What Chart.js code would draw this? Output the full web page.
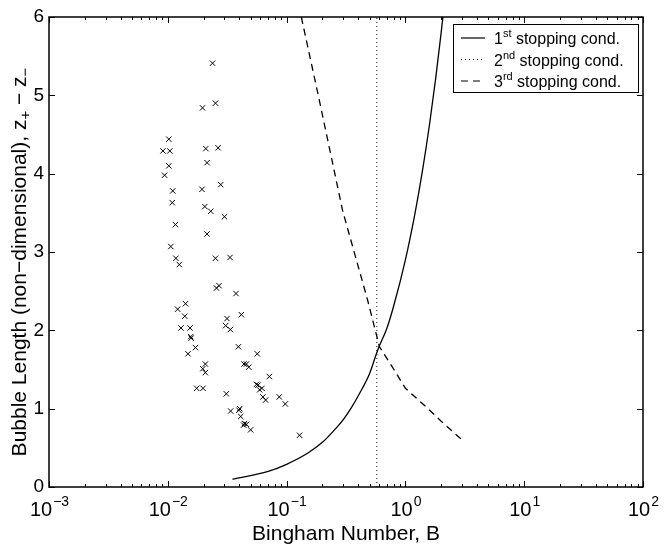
<!DOCTYPE html>
<html>
<head>
<meta charset="utf-8">
<script src="https://cdn.jsdelivr.net/npm/chart.js@4.4.0/dist/chart.umd.min.js"></script>
<style>
  html, body { margin: 0; padding: 0; background: #fff; }
  #wrap { width: 665px; height: 550px; position: relative; }
</style>
</head>
<body>
<div id="wrap"><canvas id="bubbleChart"></canvas></div>
<script>
// -----------------------------
// Data
// -----------------------------
const measuredB = [0.0238, 0.0252, 0.0196, 0.0102, 0.0091, 0.0104, 0.0209, 0.0265, 0.0102, 0.0214,
  0.0094, 0.0110, 0.0194, 0.0279, 0.0109, 0.0205, 0.0230, 0.0300, 0.0116, 0.0214,
  0.0106, 0.0117, 0.0125, 0.0252, 0.0334, 0.0257, 0.0270, 0.0375, 0.0141, 0.0121,
  0.0139, 0.0315, 0.0416, 0.0307, 0.0336, 0.0129, 0.0154, 0.0156, 0.0157, 0.0171,
  0.0148, 0.0393, 0.0567, 0.0207, 0.0197, 0.0207, 0.0438, 0.0459, 0.0480, 0.0716,
  0.0557, 0.0574, 0.0620, 0.0593, 0.0632, 0.0666, 0.0868, 0.0975, 0.0175, 0.0198,
  0.0311, 0.0338, 0.0397, 0.0403, 0.0411, 0.0441, 0.0459, 0.0435, 0.0498, 0.1285];
const measuredL = [5.41, 4.90, 4.84, 4.44, 4.29, 4.29, 4.32, 4.33, 4.10, 4.14,
  3.98, 3.78, 3.80, 3.86, 3.63, 3.58, 3.52, 3.45, 3.35, 3.23,
  3.07, 2.92, 2.84, 2.92, 2.93, 2.54, 2.57, 2.47, 2.34, 2.27,
  2.18, 2.15, 2.20, 2.06, 2.01, 2.03, 2.03, 1.92, 1.90, 1.78,
  1.70, 1.79, 1.70, 1.57, 1.51, 1.46, 1.57, 1.57, 1.53, 1.41,
  1.31, 1.30, 1.26, 1.24, 1.15, 1.11, 1.15, 1.06, 1.26, 1.26,
  1.19, 0.97, 0.98, 1.00, 0.90, 0.81, 0.80, 0.79, 0.73, 0.66];

// 1st stopping condition (solid)
const cond1B = [0.035, 0.070, 0.10, 0.15, 0.20, 0.25, 0.30, 0.35, 0.41, 0.50, 0.585, 0.70, 0.80, 1.0, 1.2, 1.4, 1.6, 1.8, 2.0, 2.1];
const cond1L = [0.10, 0.20, 0.29, 0.43, 0.57, 0.72, 0.86, 1.01, 1.19, 1.45, 1.75, 2.03, 2.32, 2.90, 3.48, 4.06, 4.64, 5.22, 5.80, 6.09];

// 2nd stopping condition (dotted, vertical)
const cond2B = [0.575, 0.575];
const cond2L = [0, 6];

// 3rd stopping condition (dashed)
const cond3B = [0.133, 0.189, 0.297, 0.40, 0.48, 0.605, 0.70, 0.80, 1.0, 1.5, 2.0, 2.95];
const cond3L = [6.00, 4.93, 3.52, 2.82, 2.39, 1.79, 1.64, 1.50, 1.26, 1.02, 0.84, 0.61];

const xTickExps = [-3, -2, -1, 0, 1, 2];
const yTickValues = [0, 1, 2, 3, 4, 5, 6];
const legendNums = ['1', '2', '3'];
const legendSups = ['st', 'nd', 'rd'];
const legendText = ' stopping cond.';
// y title pieces: [text, isSubscript]
const yTitleParts = [['Bubble Length (non\u2212dimensional), z', false], ['+', true], [' \u2212 z', false], ['\u2212', true]];

const FONT = '"Liberation Sans", Arial, Helvetica, sans-serif';

function toPoints(xs, ys) {
    return xs.map((x, i) => ({ x: x, y: ys[i] }));
}

// -----------------------------
// Plugin: box, inward ticks, x labels with exponents, y title, legend
// -----------------------------
const matlabAxes = {
    id: 'matlabAxes',
    afterDraw(chart) {
        const ctx = chart.ctx;
        const area = chart.chartArea;
        const xs = chart.scales.x;
        const ys = chart.scales.y;
        ctx.save();
        ctx.strokeStyle = '#000';
        ctx.fillStyle = '#000';

        // ticks on x (top and bottom), log minor ticks
        ctx.lineWidth = 1;
        ctx.beginPath();
        for (let i = 0; i < xTickExps.length; i++) {
            const e = xTickExps[i];
            const px = Math.round(xs.getPixelForValue(Math.pow(10, e))) + 0.5;
            ctx.moveTo(px, area.bottom); ctx.lineTo(px, area.bottom - 6);
            ctx.moveTo(px, area.top); ctx.lineTo(px, area.top + 6);
            if (i < xTickExps.length - 1) {
                for (let k = 2; k <= 9; k++) {
                    const mx = Math.round(xs.getPixelForValue(k * Math.pow(10, e))) + 0.5;
                    ctx.moveTo(mx, area.bottom); ctx.lineTo(mx, area.bottom - 3);
                    ctx.moveTo(mx, area.top); ctx.lineTo(mx, area.top + 3);
                }
            }
        }
        // ticks on y (left and right)
        yTickValues.forEach(v => {
            const py = Math.round(ys.getPixelForValue(v)) + 0.5;
            ctx.moveTo(area.left, py); ctx.lineTo(area.left + 6, py);
            ctx.moveTo(area.right, py); ctx.lineTo(area.right - 6, py);
        });
        ctx.stroke();

        // axes box
        ctx.lineWidth = 1.5;
        ctx.strokeRect(area.left, area.top, area.right - area.left, area.bottom - area.top);

        // x tick labels: 10 with exponent
        ctx.textBaseline = 'alphabetic';
        ctx.textAlign = 'left';
        xTickExps.forEach(e => {
            const px = xs.getPixelForValue(Math.pow(10, e));
            const expStr = (e < 0 ? '\u2212' : '') + Math.abs(e);
            ctx.font = '20px ' + FONT;
            const wBase = ctx.measureText('10').width;
            ctx.font = '14px ' + FONT;
            const wExp = ctx.measureText(expStr).width;
            const x0 = px - (wBase + wExp) / 2;
            ctx.font = '20px ' + FONT;
            ctx.fillText('10', x0, 516);
            ctx.font = '14px ' + FONT;
            ctx.fillText(expStr, x0 + wBase + 1, 506);
        });

        // y title, rotated, with subscripts
        const bigF = '21px ' + FONT, smallF = '15px ' + FONT;
        let total = 0;
        yTitleParts.forEach(p => {
            ctx.font = p[1] ? smallF : bigF;
            total += ctx.measureText(p[0]).width;
        });
        ctx.save();
        ctx.translate(26, 262);
        ctx.rotate(-Math.PI / 2);
        let tx = -total / 2;
        yTitleParts.forEach(p => {
            ctx.font = p[1] ? smallF : bigF;
            ctx.fillText(p[0], tx, p[1] ? 4 : 0);
            tx += ctx.measureText(p[0]).width;
        });
        ctx.restore();

        // legend
        const lx = 453.5, ly = 24.5, lw = 185, lh = 68;
        ctx.fillStyle = '#fff';
        ctx.fillRect(lx, ly, lw, lh);
        ctx.lineWidth = 1;
        ctx.strokeStyle = '#000';
        ctx.strokeRect(lx, ly, lw, lh);
        const rowY = [38, 59.5, 81];
        const dashes = [[], [1, 3], [7, 5]];
        rowY.forEach((ry, i) => {
            ctx.beginPath();
            ctx.setLineDash(dashes[i]);
            ctx.lineWidth = 1.2;
            ctx.moveTo(461, ry); ctx.lineTo(485, ry);
            ctx.stroke();
            ctx.setLineDash([]);
            ctx.fillStyle = '#000';
            ctx.font = '16px ' + FONT;
            ctx.fillText(legendNums[i], 494, ry + 6);
            const w1 = ctx.measureText(legendNums[i]).width;
            ctx.font = '11px ' + FONT;
            ctx.fillText(legendSups[i], 494 + w1, ry - 1);
            const w2 = ctx.measureText(legendSups[i]).width;
            ctx.font = '16px ' + FONT;
            ctx.fillText(legendText, 494 + w1 + w2, ry + 6);
        });
        ctx.restore();
    }
};

// -----------------------------
// Chart
// -----------------------------
const canvas = document.getElementById('bubbleChart');
new Chart(canvas.getContext('2d'), {
    type: 'scatter',
    data: {
        datasets: [
            {
                label: 'measured',
                data: toPoints(measuredB, measuredL),
                pointStyle: 'crossRot',
                pointRadius: 3.8,
                pointBorderWidth: 1,
                borderColor: '#000',
                backgroundColor: '#000',
                showLine: false
            },
            {
                label: '1st stopping cond.',
                data: toPoints(cond1B, cond1L),
                showLine: true,
                borderColor: '#000',
                borderWidth: 1.3,
                pointRadius: 0,
                cubicInterpolationMode: 'monotone'
            },
            {
                label: '2nd stopping cond.',
                data: toPoints(cond2B, cond2L),
                showLine: true,
                borderColor: '#000',
                borderWidth: 1,
                borderDash: [1, 3],
                pointRadius: 0
            },
            {
                label: '3rd stopping cond.',
                data: toPoints(cond3B, cond3L),
                showLine: true,
                borderColor: '#000',
                borderWidth: 1.3,
                borderDash: [7, 5],
                pointRadius: 0,
                tension: 0
            }
        ]
    },
    options: {
        responsive: true,
        maintainAspectRatio: false,
        animation: false,
        devicePixelRatio: 1,
        layout: { padding: { top: 17, right: 22, left: 0, bottom: 0 } },
        plugins: {
            legend: { display: false },
            tooltip: { enabled: false }
        },
        scales: {
            x: {
                type: 'logarithmic',
                min: 1e-3,
                max: 1e2,
                grid: { display: false, drawTicks: false },
                border: { display: false },
                ticks: { display: false },
                title: {
                    display: true,
                    text: 'Bingham Number, B',
                    color: '#000',
                    font: { size: 21, family: FONT },
                    padding: { top: 0, bottom: 3 }
                },
                afterFit(scale) { scale.height = 63; }
            },
            y: {
                min: 0,
                max: 6,
                grid: { display: false, drawTicks: false },
                border: { display: false },
                ticks: {
                    stepSize: 1,
                    color: '#000',
                    padding: 5,
                    font: { size: 19, family: FONT }
                },
                title: { display: false },
                afterFit(scale) { scale.width = 49; }
            }
        }
    },
    plugins: [matlabAxes]
});
</script>
</body>
</html>
